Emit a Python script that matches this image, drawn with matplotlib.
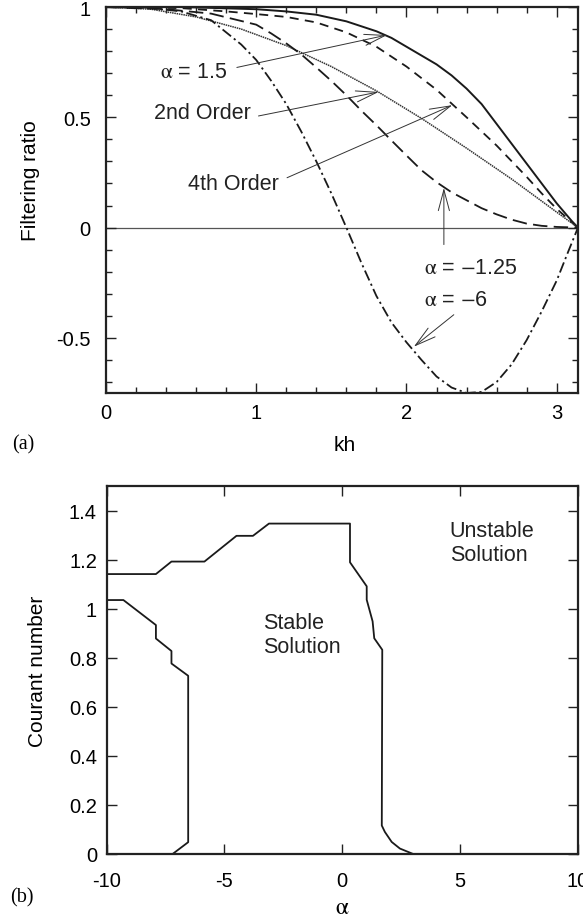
import numpy as np
import matplotlib
matplotlib.use("Agg")
import matplotlib.pyplot as plt
from matplotlib.ticker import MultipleLocator

plt.rcParams['font.family'] = ['Liberation Sans', 'DejaVu Sans']
plt.rcParams['mathtext.fontset'] = 'stix'
plt.rcParams['axes.unicode_minus'] = False

# ---- (a) filtering ratio vs kh ----
kh_solid = [0, 0.5, 1.0, 1.2, 1.4, 1.6, 1.8, 1.9, 2.0, 2.1, 2.2, 2.3, 2.4, 2.5, 2.6, 2.7, 2.8, 2.9, 3.0, 3.1, np.pi]
fr_solid = [1.0, 1.0, 0.99, 0.98, 0.965, 0.935, 0.89, 0.86, 0.82, 0.78, 0.74, 0.69, 0.63, 0.56, 0.47, 0.38,
            0.29, 0.20, 0.11, 0.03, 0.0]

kh_4th = [0, 0.5, 0.8, 1.0, 1.2, 1.4, 1.6, 1.8, 2.0, 2.2, 2.4, 2.6, 2.8, 2.9, 3.0, 3.1, np.pi]
fr_4th = [1.0, 0.995, 0.98, 0.968, 0.955, 0.93, 0.885, 0.82, 0.73, 0.625, 0.50, 0.372, 0.23, 0.155, 0.085,
          0.025, 0.0]

kh_2nd = [0, 0.3, 0.6, 0.9, 1.2, 1.5, 1.8, 2.1, 2.4, 2.7, 3.0, np.pi]
fr_2nd = [1.0, 0.99, 0.955, 0.90, 0.825, 0.73, 0.62, 0.495, 0.36, 0.22, 0.07, 0.0]

kh_m125 = [0, 0.4, 0.7, 1.0, 1.1, 1.2, 1.3, 1.4, 1.5, 1.6, 1.7, 1.8, 1.9, 2.0, 2.1, 2.2, 2.3, 2.4, 2.5, 2.6,
           2.7, 2.8, 2.9, 3.0, np.pi]
fr_m125 = [1.0, 0.99, 0.97, 0.92, 0.88, 0.835, 0.785, 0.726, 0.665, 0.60, 0.53, 0.464, 0.395, 0.327, 0.26,
           0.206, 0.16, 0.124, 0.088, 0.06, 0.036, 0.018, 0.008, 0.003, 0.0]

kh_m6 = [0, 0.3, 0.5, 0.7, 0.9, 1.0, 1.1, 1.2, 1.3, 1.4, 1.5, 1.6, 1.7, 1.8, 1.9, 2.0, 2.1, 2.2, 2.3, 2.4,
         2.5, 2.6, 2.7, 2.8, 2.9, 3.0, 3.07, np.pi]
fr_m6 = [1.0, 0.995, 0.98, 0.94, 0.83, 0.76, 0.665, 0.56, 0.435, 0.30, 0.155, 0.0, -0.16, -0.31, -0.43,
         -0.52, -0.60, -0.675, -0.725, -0.75, -0.745, -0.70, -0.62, -0.51, -0.38, -0.24, -0.12, 0.0]

# labels, label anchor (left, centre), arrow tail, arrow tip
a_labels = [r'$\mathrm{\alpha}$ = 1.5', '2nd Order', '4th Order',
            r'$\mathrm{\alpha}$ = $-$1.25', r'$\mathrm{\alpha}$ = $-$6']
a_text_xy = [(0.36, 0.706), (0.32, 0.521), (0.547, 0.199), (2.115, -0.183), (2.115, -0.327)]
a_tail = [(0.871, 0.726), (1.015, 0.506), (1.205, 0.226), (2.249, -0.077), (2.315, -0.395)]
a_tip = [(1.871, 0.873), (1.815, 0.615), (2.305, 0.555), (2.249, 0.18), (2.049, -0.54)]

# ---- (b) stability boundary, Courant number vs alpha ----
al_upper = [-10, -7.91, -7.25, -5.85, -4.49, -3.79, -3.11, 0.33, 0.33, 1.04, 1.04, 1.29, 1.36, 1.70,
            1.68, 1.81, 2.10, 2.45, 3.01]
cn_upper = [1.142, 1.142, 1.193, 1.193, 1.298, 1.298, 1.348, 1.348, 1.19, 1.092, 1.037, 0.949, 0.88, 0.833,
            0.116, 0.09, 0.049, 0.022, 0.0]

al_lower = [-10, -9.29, -7.91, -7.91, -7.25, -7.25, -6.54, -6.54, -7.2]
cn_lower = [1.036, 1.036, 0.934, 0.879, 0.828, 0.777, 0.727, 0.048, 0.0]

fs_tick = 14.5
fs_lab = 15
fs_txt = 15.5

fig = plt.figure(figsize=(5.83, 9.2), dpi=100)
ax1 = fig.add_axes([0.1818, 0.5717, 0.8096, 0.4196])
ax2 = fig.add_axes([0.183, 0.0707, 0.808, 0.3996])

ink = '#1a1a1a'

ax1.axhline(0, color='#555555', lw=0.9, zorder=1)
ax1.plot(kh_solid, fr_solid, color=ink, lw=1.4)
ax1.plot(kh_4th, fr_4th, color=ink, lw=1.3, dashes=(5, 3.5))
ax1.plot(kh_2nd, fr_2nd, color='#333333', lw=1.1, dashes=(1, 0.5))
ax1.plot(kh_m125, fr_m125, color=ink, lw=1.3, dashes=(8, 3.5))
ax1.plot(kh_m6, fr_m6, color=ink, lw=1.3, dashes=(6, 2, 1.2, 2))

for lab, txy, tail, tip in zip(a_labels, a_text_xy, a_tail, a_tip):
    ax1.text(txy[0], txy[1], lab, fontsize=fs_txt, ha='left', va='center', color='#222222')
    ax1.annotate('', xy=tip, xytext=tail,
                 arrowprops=dict(arrowstyle='->,head_length=1.5,head_width=0.4', lw=0.7,
                                 color='#333333', shrinkA=0, shrinkB=0, mutation_scale=10))

ax1.set_xlim(0, np.pi)
ax1.set_ylim(-0.75, 1.0)
ax1.xaxis.set_major_locator(MultipleLocator(1))
ax1.xaxis.set_minor_locator(MultipleLocator(0.2))
ax1.yaxis.set_major_locator(MultipleLocator(0.5))
ax1.yaxis.set_minor_locator(MultipleLocator(0.1))
ax1.set_yticks([-0.5, 0, 0.5, 1])
ax1.set_yticklabels(['-0.5', '0', '0.5', '1'])
ax1.set_xlabel('kh', fontsize=fs_lab)
ax1.set_ylabel('Filtering ratio', fontsize=fs_lab)
ax1.xaxis.set_label_coords(0.506, -0.11)
ax1.yaxis.set_label_coords(-0.14, 0.554)
ax1.tick_params(which='both', direction='in', top=True, right=True, width=1.0, color='#222222')
ax1.tick_params(which='major', length=7, labelsize=fs_tick)
ax1.tick_params(which='minor', length=4.2)
ax1.tick_params(axis='y', which='major', pad=11)
ax1.tick_params(axis='x', which='major', pad=7)

ax2.plot(al_upper, cn_upper, color=ink, lw=1.3)
ax2.plot(al_lower, cn_lower, color=ink, lw=1.3)
ax2.text(-3.37, 0.897, 'Stable\nSolution', fontsize=fs_txt, ha='left', va='center',
         linespacing=1.2, color='#222222')
ax2.text(4.57, 1.27, 'Unstable\nSolution', fontsize=fs_txt, ha='left', va='center',
         linespacing=1.2, color='#222222')
ax2.set_xlim(-10, 10)
ax2.set_ylim(0, 1.5)
ax2.set_xticks([-10, -5, 0, 5, 10])
ax2.set_yticks([0, 0.2, 0.4, 0.6, 0.8, 1, 1.2, 1.4])
ax2.set_yticklabels(['0', '0.2', '0.4', '0.6', '0.8', '1', '1.2', '1.4'])
ax2.set_xlabel(r'$\mathrm{\alpha}$', fontsize=fs_lab + 2)
ax2.set_ylabel('Courant number', fontsize=fs_lab)
ax2.xaxis.set_label_coords(0.5, -0.115)
ax2.yaxis.set_label_coords(-0.127, 0.5)
ax2.tick_params(which='both', direction='in', top=True, right=True, width=1.0, color='#222222',
                length=7.5, labelsize=fs_tick)
ax2.tick_params(axis='x', pad=12)
ax2.tick_params(axis='y', pad=7)

for ax in (ax1, ax2):
    for s in ax.spines.values():
        s.set_linewidth(1.6)
        s.set_color('#222222')

fig.text(0.02, 0.517, '(a)', fontsize=14.5, family='Liberation Serif', va='center')
fig.text(0.017, 0.024, '(b)', fontsize=14.5, family='Liberation Serif', va='center')

fig.savefig('out.png', dpi=100)
